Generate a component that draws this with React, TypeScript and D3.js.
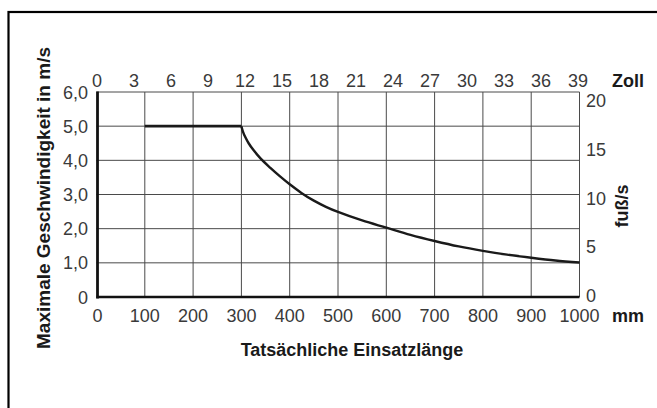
import React from 'react';
import * as d3 from 'd3';

// Werte
const mmTicks = [0, 100, 200, 300, 400, 500, 600, 700, 800, 900, 1000];
const zollTicks = [0, 3, 6, 9, 12, 15, 18, 21, 24, 27, 30, 33, 36, 39];
const msTicks = [0, 1, 2, 3, 4, 5, 6];
const fpsTicks = [0, 5, 10, 15, 20];

const flatPart: [number, number][] = [[100, 5.0], [300, 5.0]];
const curvePart: [number, number][] = [
    [300, 5.0], [303, 4.85], [308, 4.68], [315, 4.5], [325, 4.3], [340, 4.05],
    [360, 3.78], [380, 3.53], [400, 3.3], [425, 3.04], [450, 2.82], [475, 2.64],
    [500, 2.49], [550, 2.24], [600, 2.03], [650, 1.82], [700, 1.64], [750, 1.48],
    [800, 1.35], [850, 1.24], [900, 1.15], [950, 1.07], [1000, 1.01],
];

const W = 657;
const H = 408;
const FONT = '"Liberation Sans", Arial, Helvetica, sans-serif';

const fmt = (v: number) => (v === 0 ? '0' : v.toFixed(1).replace('.', ','));

const App = () => {
    const x = d3.scaleLinear().domain([0, 1000]).range([96.5, 579.5]);
    const y = d3.scaleLinear().domain([0, 6]).range([297, 92]);
    const xZoll = d3.scaleLinear().domain([0, 39]).range([97, 578]);
    // rechte Beschriftung (fuß/s) sitzt etwas versetzt zum Raster
    const yFps = d3.scaleLinear().domain([0, 20]).range([302, 107]);

    const line = d3.line<[number, number]>().x(d => x(d[0])).y(d => y(d[1]));
    const curve = d3.line<[number, number]>()
        .x(d => x(d[0])).y(d => y(d[1]))
        .curve(d3.curveCatmullRom.alpha(0.5));

    return (
        <div style={{ position: 'fixed', left: 0, top: 0 }}>
            <svg width={W} height={H} style={{ display: 'block', background: '#fff' }} fontFamily={FONT}>
                {/* Rahmen */}
                <rect x={8.5} y={12} width={700} height={500} fill="none" stroke="#000" strokeWidth={2.2} />

                {/* Raster */}
                <g stroke="#4a4a4a" strokeWidth={1}>
                    {mmTicks.slice(1).map(t => (
                        <line key={'v' + t} x1={x(t)} x2={x(t)} y1={y(6)} y2={y(0)} />
                    ))}
                    {msTicks.slice(1).map(t => (
                        <line key={'h' + t} x1={x(0)} x2={x(1000)} y1={y(t)} y2={y(t)} />
                    ))}
                </g>

                {/* Achsen */}
                <line x1={x(0) + 1} x2={x(0) + 1} y1={y(6) - 0.5} y2={y(0) + 1.5} stroke="#111" strokeWidth={2.8} />
                <line x1={x(0)} x2={x(1000)} y1={y(0)} y2={y(0)} stroke="#111" strokeWidth={2.6} />

                {/* Kurve */}
                <path d={line(flatPart) || ''} fill="none" stroke="#1a1a1a" strokeWidth={2.6} />
                <path d={curve(curvePart) || ''} fill="none" stroke="#1a1a1a" strokeWidth={2.4} />

                {/* Beschriftungen */}
                <g fontSize={18} fill="#3a3a3a">
                    {mmTicks.map(t => (
                        <text key={'mm' + t} x={x(t) + (t === 0 ? 1 : 0)} y={322} textAnchor="middle">{t}</text>
                    ))}
                    {zollTicks.map(t => (
                        <text key={'z' + t} x={xZoll(t)} y={87} textAnchor="middle">{t}</text>
                    ))}
                    {msTicks.map(t => (
                        <text key={'ms' + t} x={88} y={y(t) + 6.5} textAnchor="end">{fmt(t)}</text>
                    ))}
                    {fpsTicks.map(t => (
                        <text key={'f' + t} x={586} y={yFps(t)} textAnchor="start">{t}</text>
                    ))}
                </g>

                <g fontWeight="bold" fill="#1a1a1a">
                    <text x={612} y={87} fontSize={18}>Zoll</text>
                    <text x={612} y={322} fontSize={18}>mm</text>
                    <text x={352} y={356} fontSize={18} textAnchor="middle">Tatsächliche Einsatzlänge</text>
                    <text transform="translate(50,198) rotate(-90)" fontSize={19} textAnchor="middle">Maximale Geschwindigkeit in m/s</text>
                    <text transform="translate(628,206) rotate(-90)" fontSize={18} textAnchor="middle">fuß/s</text>
                </g>
            </svg>
        </div>
    );
};

export default App;
